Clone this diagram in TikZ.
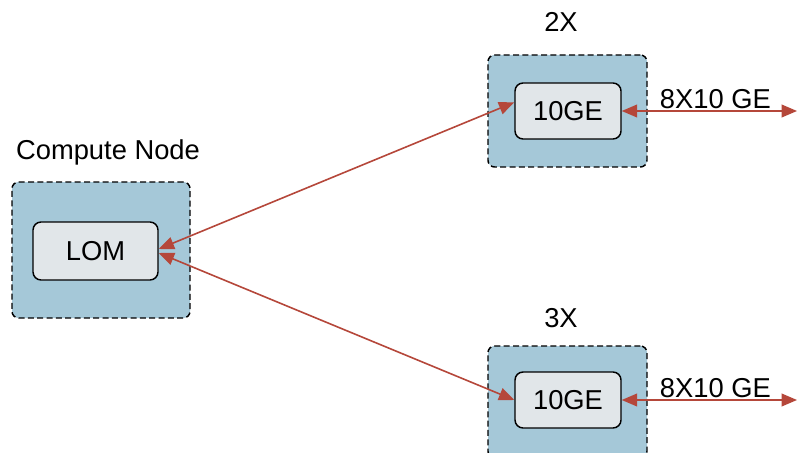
\documentclass[tikz,border=0pt]{standalone}
\usepackage{fontspec}
\setmainfont{Liberation Sans}
\usetikzlibrary{arrows.meta, positioning}
\definecolor{boxblue}{HTML}{A5C8D8}
\definecolor{portgray}{HTML}{E1E6E9}
\definecolor{linkred}{HTML}{B5473A}

\begin{document}
\begin{tikzpicture}[
    x=0.75pt, y=-0.75pt,
    >={Triangle[length=11.5pt, width=9.5pt]},
    chassis/.style={draw=black, fill=boxblue, dash pattern=on 4.5pt off 2.5pt, line width=1.1pt, rounded corners=5pt},
    port/.style={draw=black, fill=portgray, line width=1.1pt, rounded corners=6pt, font=\fontsize{20.5}{22}\selectfont},
    title/.style={font=\fontsize{20.5}{22}\selectfont},
    rate/.style={text=black, font=\fontsize{20.5}{22}\selectfont},
    link/.style={<->, linkred, line width=1.2pt}
]
\useasboundingbox (0,0) rectangle (797,453);
\clip (0,0) rectangle (797,453);

% ---- compute node ----
\node[chassis, minimum width=133.5pt, minimum height=102pt] (cnode) at (101,250) {};
\node[port, minimum width=93.75pt, minimum height=43.5pt] (lom) at (95.5,251) {LOM};
\node[title] (cnodelab) at (108,152) {Compute Node};

% ---- upper switch (2X) ----
\node[chassis, minimum width=119.25pt, minimum height=84pt] (swA) at (567.5,111) {};
\node[port, minimum width=79.5pt, minimum height=42pt] (geA) at (568,111) {10GE};
\node[title] (swAlab) at (561,22) {2X};

% ---- lower switch (3X) ----
\node[chassis, minimum width=119.25pt, minimum height=84pt] (swB) at (567.5,402) {};
\node[port, minimum width=79.5pt, minimum height=42pt] (geB) at (568,400) {10GE};
\node[title] (swBlab) at (561,318) {3X};

% ---- links ----
\coordinate (upA) at (797,111);
\coordinate (upB) at (797,400);
\draw[link] ([yshift=1.5pt]lom.east) -- ([yshift=6.5pt]geA.west);
\draw[link] ([yshift=-1.5pt]lom.east) -- (geB.west);
\draw[link] (geA.east) -- (upA)
    node[rate, midway, above=-2pt, xshift=4.5pt] {8X10 GE};
\draw[link] (geB.east) -- (upB)
    node[rate, midway, above=-2pt, xshift=4.5pt] {8X10 GE};

\end{tikzpicture}
\end{document}
